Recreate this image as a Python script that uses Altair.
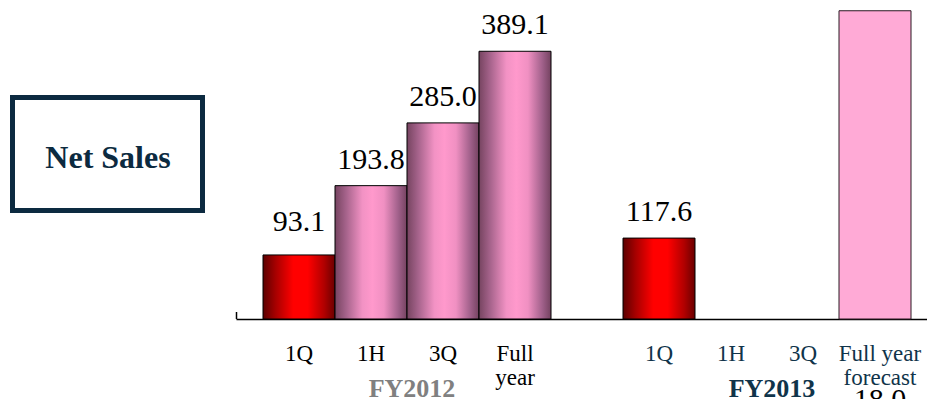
import altair as alt
import pandas as pd

# ---- data ----
fiscal_years = ["FY2012"] * 4 + ["FY2013"] * 4
periods = ["1Q", "1H", "3Q", "Full\nyear", "1Q", "1H", "3Q", "Full year\nforecast"]
net_sales = [93.1, 193.8, 285.0, 389.1, 117.6, None, None, 448.0]
value_labels = ["93.1", "193.8", "285.0", "389.1", "117.6", "", "", ""]
forecast_label = "18.0"
group_labels = ["FY2012", "FY2013"]
panel_title = "Net Sales"

slots = [f"{f} {p}" for f, p in zip(fiscal_years, periods)]
slot_domain = slots[:4] + ["gap"] + slots[4:]

df = pd.DataFrame({"fy": fiscal_years, "period": periods, "slot": slots,
                   "value": net_sales, "label": value_labels})
df_groups = pd.DataFrame({"group": group_labels,
                          "anchor": [f"{g} 3Q" for g in group_labels]})
df_title = pd.DataFrame({"t": [panel_title]})

SERIF = "Liberation Serif"
NAVY = "#10344a"

x_scale = alt.Scale(domain=slot_domain, paddingInner=0, paddingOuter=0.2986, align=0.628)
x_axis = alt.Axis(labels=False, ticks=False, title=None, domainColor="black",
                  domainWidth=1.5, grid=False)
x_enc = alt.X("slot:N", scale=x_scale, axis=x_axis)
y_enc = alt.Y("value:Q", scale=alt.Scale(domain=[0, 452]), axis=None)

red_grad = alt.Gradient(
    gradient="linear", x1=0, x2=1, y1=0, y2=0,
    stops=[alt.GradientStop(offset=0, color="#5c0000"),
           alt.GradientStop(offset=0.18, color="#a80000"),
           alt.GradientStop(offset=0.42, color="#ff0000"),
           alt.GradientStop(offset=0.62, color="#ff0000"),
           alt.GradientStop(offset=0.85, color="#b00000"),
           alt.GradientStop(offset=1, color="#6a0000")])
pink_grad = alt.Gradient(
    gradient="linear", x1=0, x2=1, y1=0, y2=0,
    stops=[alt.GradientStop(offset=0, color="#764460"),
           alt.GradientStop(offset=0.15, color="#a4628a"),
           alt.GradientStop(offset=0.38, color="#f292c4"),
           alt.GradientStop(offset=0.52, color="#ff99cc"),
           alt.GradientStop(offset=0.68, color="#f090c2"),
           alt.GradientStop(offset=0.88, color="#a0608a"),
           alt.GradientStop(offset=1, color="#744260")])

base = alt.Chart(df).encode(x=x_enc)

red_bars = base.transform_filter(
    "datum.period == '1Q' && isValid(datum.value)"
).mark_bar(color=red_grad, stroke="black", strokeWidth=1).encode(y=y_enc)

pink_bars = base.transform_filter(
    "datum.fy == 'FY2012' && datum.period != '1Q'"
).mark_bar(color=pink_grad, stroke="black", strokeWidth=1).encode(y=y_enc)

forecast_bar = base.transform_filter(
    "indexof(datum.period, 'forecast') >= 0"
).mark_bar(color="#ffaad6", stroke="#2a1a22", strokeWidth=1).encode(y=y_enc)

value_text = base.transform_filter(
    "datum.label != '' && datum.slot != 'FY2012 1Q'"
).mark_text(
    font=SERIF, fontSize=30, dy=-17, baseline="alphabetic", color="black"
).encode(y=y_enc, text="label:N")

first_value_text = base.transform_filter("datum.slot == 'FY2012 1Q'").mark_text(
    font=SERIF, fontSize=30, dy=-24, baseline="alphabetic", color="black"
).encode(y=y_enc, text="label:N")

tick_text = base.transform_filter(
    "indexof(datum.period, 'forecast') < 0"
).mark_text(
    font=SERIF, fontSize=23, lineBreak="\n", lineHeight=24, baseline="alphabetic"
).encode(
    y=alt.value(353), text="period:N",
    color=alt.condition("datum.fy == 'FY2012'", alt.value("black"), alt.value(NAVY)),
)

forecast_tick_text = base.transform_filter(
    "indexof(datum.period, 'forecast') >= 0"
).mark_text(
    font=SERIF, fontSize=23, lineBreak="\n", lineHeight=24, baseline="alphabetic",
    dx=5, color=NAVY
).encode(y=alt.value(353), text="period:N")

group_text = alt.Chart(df_groups).mark_text(
    font=SERIF, fontSize=26, fontWeight="bold", baseline="alphabetic", dx=5
).encode(
    x=alt.X("anchor:N", scale=x_scale, axis=x_axis, bandPosition=0),
    y=alt.value(389), text="group:N",
    color=alt.condition("datum.group == 'FY2012'", alt.value("#808080"), alt.value(NAVY)),
)

forecast_text = base.transform_filter(
    "indexof(datum.period, 'forecast') >= 0"
).mark_text(font=SERIF, fontSize=30, baseline="alphabetic", dx=5, color="black").encode(
    y=alt.value(401), text=alt.value(forecast_label)
)

left_tick = alt.Chart(df_title).mark_rule(color="black", strokeWidth=1.5).encode(
    x=alt.value(0.5), y=alt.value(304), y2=alt.value(311)
)

title_box = alt.Chart(df_title).mark_rect(
    fill="white", stroke="#0c2a40", strokeWidth=5
).encode(x=alt.value(-223.5), x2=alt.value(-33.5), y=alt.value(89.5), y2=alt.value(202.5))

title_text = alt.Chart(df_title).mark_text(
    font=SERIF, fontSize=32, fontWeight="bold", color="#0c2a40", baseline="middle"
).encode(x=alt.value(-128), y=alt.value(150), text="t:N")

chart = alt.layer(
    title_box, title_text, red_bars, pink_bars, forecast_bar, value_text,
    first_value_text, tick_text, forecast_tick_text, group_text, forecast_text,
    left_tick
).properties(
    width=691, height=311,
    autosize=alt.AutoSizeParams(type="none"),
    padding={"left": 228, "top": 0, "right": 0, "bottom": 80},
).configure_view(stroke=None)

chart.save("out.html", embed_options={"renderer": "svg", "actions": False})
